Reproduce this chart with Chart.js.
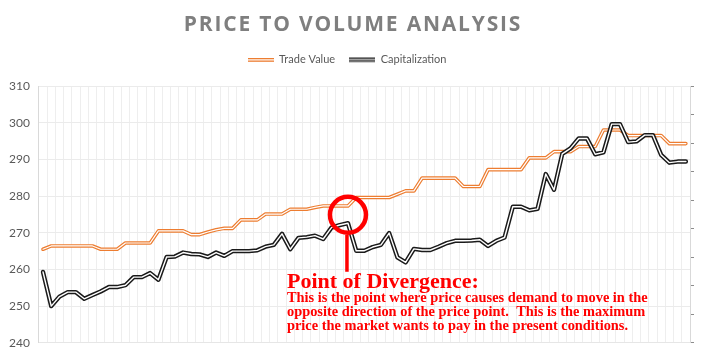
<!DOCTYPE html>
<html>
<head>
<meta charset="utf-8">
<script src="https://cdn.jsdelivr.net/npm/chart.js@4.4.1/dist/chart.umd.min.js"></script>
<style>
  html, body { margin: 0; padding: 0; background: #fff; }
  #wrap { position: relative; width: 704px; height: 359px; }
</style>
</head>
<body>
<div id="wrap"><canvas id="chart" width="704" height="359"></canvas></div>
<script>
// values, one per period
const tradeValue = [
  265.5, 266.4, 266.4, 266.4, 266.4, 266.4, 266.4, 265.5, 265.5, 265.5,
  267.2, 267.2, 267.2, 267.2, 270.5, 270.5, 270.5, 270.5, 269.5, 269.5,
  270.2, 270.8, 271.2, 271.2, 273.5, 273.5, 273.5, 275.1, 275.1, 275.1,
  276.4, 276.4, 276.4, 276.9, 277.3, 277.3, 277.3, 277.3, 279.6, 279.6,
  279.6, 279.6, 279.6, 280.5, 281.4, 281.4, 284.9, 284.9, 284.9, 284.9,
  284.9, 282.6, 282.6, 282.6, 287.2, 287.2, 287.2, 287.2, 287.2, 290.4,
  290.4, 290.4, 292.1, 292.1, 292.1, 293.5, 293.5, 293.5, 298.0, 298.0,
  298.0, 296.5, 296.5, 296.5, 296.5, 296.5, 294.3, 294.3, 294.3
];
const capitalization = [
  259.3, 250.0, 252.6, 253.8, 253.8, 252.0, 253.0, 254.0, 255.2, 255.2,
  255.7, 257.9, 257.9, 259.0, 257.2, 263.4, 263.5, 264.6, 264.2, 264.1,
  263.4, 264.6, 263.7, 265.0, 265.0, 265.0, 265.2, 266.2, 266.7, 269.7,
  265.5, 268.6, 268.8, 269.2, 268.3, 271.4, 272.1, 272.6, 265.1, 265.1,
  266.1, 266.7, 269.9, 263.3, 261.9, 265.6, 265.3, 265.3, 266.2, 267.2,
  267.8, 267.8, 267.9, 268.1, 266.4, 267.8, 268.7, 277.1, 277.1, 276.1,
  276.5, 286.0, 281.7, 291.5, 293.0, 295.7, 295.7, 291.4, 291.9, 299.6,
  299.6, 294.7, 294.9, 296.6, 296.6, 291.2, 289.1, 289.4, 289.4
];
const periods = tradeValue.map((_, i) => i + 1);
const yTicks = [240, 250, 260, 270, 280, 290, 300, 310];

const chartTitle = 'PRICE TO VOLUME ANALYSIS';
const noteHeading = 'Point of Divergence:';
const noteLines = [
  'This is the point where price causes demand to move in the',
  'opposite direction of the price point.  This is the maximum',
  'price the market wants to pay in the present conditions.'
];
// the period and level the red circle marks
const divergenceAt = { index: 37, value: 274.9 };

const orange = '#ED7D31';
const black = '#1a1a1a';

// legend swatch: two thin strokes like Excel's compound line
function doubleLine(color, thick, gap) {
    const c = document.createElement('canvas');
    c.width = 26;
    c.height = thick * 2 + gap + 2;
    const g = c.getContext('2d');
    g.fillStyle = color;
    g.fillRect(0, 1, 26, thick);
    g.fillRect(0, 1 + thick + gap, 26, thick);
    return c;
}

const titlePlugin = {
    id: 'spacedTitle',
    beforeInit(chart) {
        // leave some air between the legend and the plot
        const fit = chart.legend.fit;
        chart.legend.fit = function () {
            fit.call(this);
            this.height += 11;
        };
    },
    afterDraw(chart) {
        const ctx = chart.ctx;
        ctx.save();
        ctx.font = 'bold 21px "Open Sans"';
        ctx.fillStyle = '#7f7f7f';
        ctx.textAlign = 'center';
        ctx.textBaseline = 'middle';
        if ('letterSpacing' in ctx) ctx.letterSpacing = '1.8px';
        ctx.fillText(chartTitle, 353, 25);
        ctx.restore();
    }
};

const notePlugin = {
    id: 'divergenceNote',
    afterDatasetsDraw(chart) {
        const ctx = chart.ctx;
        const cx = chart.scales.x.getPixelForValue(divergenceAt.index);
        const cy = chart.scales.y.getPixelForValue(divergenceAt.value);
        ctx.save();
        ctx.strokeStyle = '#FF0000';
        ctx.lineWidth = 4.5;
        ctx.beginPath();
        ctx.arc(cx, cy, 18, 0, Math.PI * 2);
        ctx.stroke();
        ctx.lineWidth = 3.5;
        ctx.beginPath();
        ctx.moveTo(cx - 1, cy + 20);
        ctx.lineTo(cx - 1, cy + 57);
        ctx.stroke();

        ctx.fillStyle = '#FF0000';
        ctx.textAlign = 'left';
        ctx.textBaseline = 'alphabetic';
        const tx = cx - 61;
        ctx.font = 'bold 22px "Liberation Serif"';
        ctx.fillText(noteHeading, tx, cy + 73);
        ctx.font = 'bold 14.4px "Liberation Serif"';
        noteLines.forEach((line, i) => {
            ctx.fillText(line, tx, cy + 87 + i * 14.2);
        });
        ctx.restore();
    }
};

const ctx = document.getElementById('chart').getContext('2d');

new Chart(ctx, {
    type: 'line',
    data: {
        labels: periods,
        datasets: [
            {
                label: 'Trade Value',
                data: tradeValue,
                borderColor: orange,
                borderWidth: 3.6,
                pointStyle: doubleLine(orange, 1.3, 1.2),
                order: 4
            },
            {
                label: 'inner-trade',
                data: tradeValue,
                borderColor: '#ffffff',
                borderWidth: 1.2,
                order: 3
            },
            {
                label: 'Capitalization',
                data: capitalization,
                borderColor: black,
                borderWidth: 4.4,
                pointStyle: doubleLine(black, 1.5, 1.2),
                order: 2
            },
            {
                label: 'inner-cap',
                data: capitalization,
                borderColor: '#ffffff',
                borderWidth: 1.4,
                order: 1
            }
        ]
    },
    options: {
        responsive: false,
        animation: false,
        layout: { padding: { top: 40, left: 0, right: 10, bottom: 14 } },
        elements: {
            point: { radius: 0, hoverRadius: 0 },
            line: { tension: 0, borderJoinStyle: 'round', borderCapStyle: 'round' }
        },
        plugins: {
            legend: {
                position: 'top',
                labels: {
                    usePointStyle: true,
                    pointStyleWidth: 26,
                    padding: 14,
                    color: '#595959',
                    font: { family: 'Lato', size: 11 },
                    filter: (item) => !item.text.startsWith('inner'),
                    sort: (a, b) => a.datasetIndex - b.datasetIndex
                }
            },
            tooltip: { enabled: false }
        },
        scales: {
            x: {
                offset: true,
                ticks: { display: false },
                grid: { color: '#eeeeee', offset: true, drawTicks: false },
                border: { color: '#e6e6e6' }
            },
            y: {
                min: yTicks[0],
                max: yTicks[yTicks.length - 1],
                ticks: {
                    stepSize: 10,
                    padding: 9,
                    color: '#595959',
                    font: { family: 'Lato', size: 12 }
                },
                grid: { color: '#ebebeb', drawTicks: false },
                border: { color: '#d9d9d9' }
            },
            y2: {
                position: 'right',
                min: 0,
                max: 9,
                ticks: { stepSize: 1, padding: 0, callback: () => '' },
                grid: { drawOnChartArea: false, tickLength: 4, tickColor: '#8c8c8c' },
                border: { color: '#d9d9d9' }
            }
        }
    },
    plugins: [titlePlugin, notePlugin]
});
</script>
</body>
</html>
